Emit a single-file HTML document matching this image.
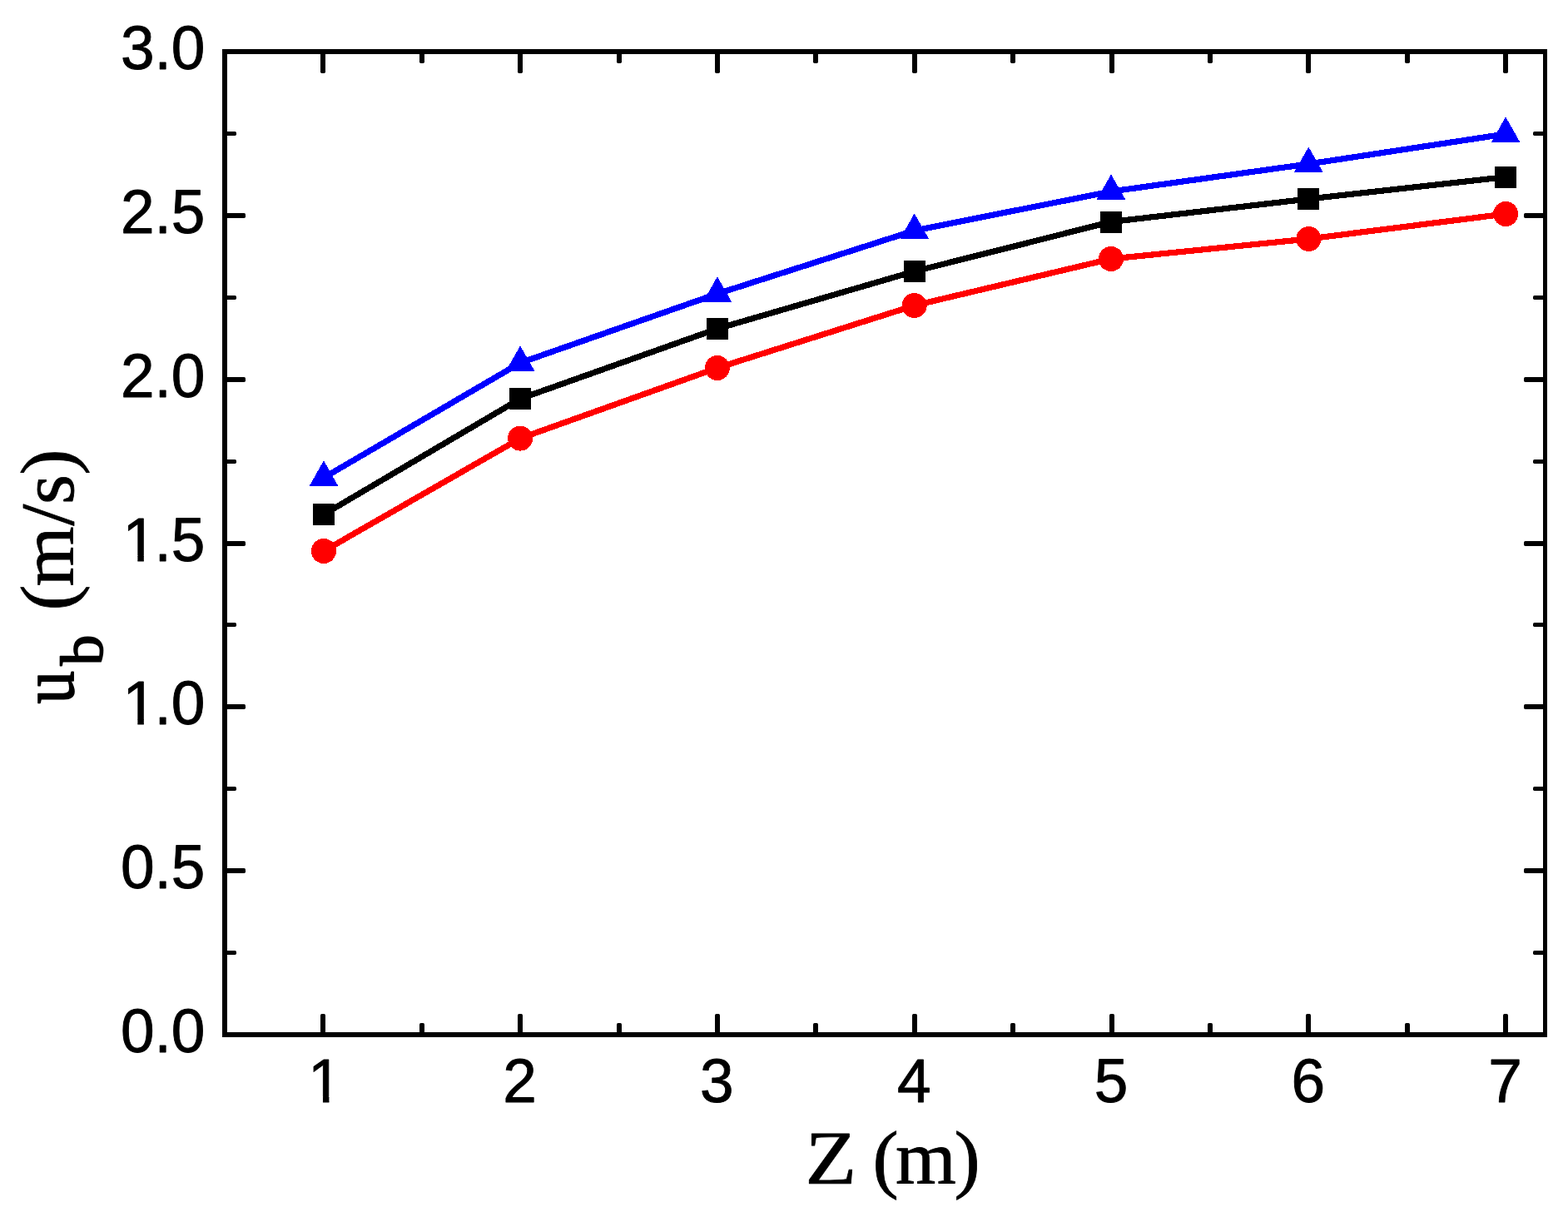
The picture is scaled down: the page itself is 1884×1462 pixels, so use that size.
<!DOCTYPE html>
<html lang="en"><head><meta charset="utf-8"><title>Bubble velocity u_b (m/s) versus height Z (m)</title>
<style>html,body{margin:0;padding:0;background:#fff;}body{width:1884px;height:1462px;overflow:hidden;}svg{display:block;}.tk{font-family:"Liberation Sans",Arial,Helvetica,sans-serif;font-size:73px;fill:#000;stroke:#000;stroke-width:0.9px;stroke-linejoin:round;}.ti{font-family:"Liberation Serif","Times New Roman",Times,serif;font-size:90px;fill:#000;stroke:#000;stroke-width:0.8px;stroke-linejoin:round;}</style></head><body>
<svg width="1884" height="1462" viewBox="0 0 1884 1462">
<rect x="0" y="0" width="1884" height="1462" fill="#fff"/>
<g fill="#000"><rect x="385" y="1218" width="6" height="25" rx="1.7"/><rect x="385" y="62" width="6" height="26" rx="1.7"/><rect x="504" y="1229" width="6" height="14" rx="1.7"/><rect x="504" y="62" width="6" height="14" rx="1.7"/><rect x="622" y="1218" width="6" height="25" rx="1.7"/><rect x="622" y="62" width="6" height="26" rx="1.7"/><rect x="741" y="1229" width="6" height="14" rx="1.7"/><rect x="741" y="62" width="6" height="14" rx="1.7"/><rect x="859" y="1218" width="6" height="25" rx="1.7"/><rect x="859" y="62" width="6" height="26" rx="1.7"/><rect x="977" y="1229" width="6" height="14" rx="1.7"/><rect x="977" y="62" width="6" height="14" rx="1.7"/><rect x="1096" y="1218" width="6" height="25" rx="1.7"/><rect x="1096" y="62" width="6" height="26" rx="1.7"/><rect x="1214" y="1229" width="6" height="14" rx="1.7"/><rect x="1214" y="62" width="6" height="14" rx="1.7"/><rect x="1333" y="1218" width="6" height="25" rx="1.7"/><rect x="1333" y="62" width="6" height="26" rx="1.7"/><rect x="1451" y="1229" width="6" height="14" rx="1.7"/><rect x="1451" y="62" width="6" height="14" rx="1.7"/><rect x="1569" y="1218" width="6" height="25" rx="1.7"/><rect x="1569" y="62" width="6" height="26" rx="1.7"/><rect x="1688" y="1229" width="6" height="14" rx="1.7"/><rect x="1688" y="62" width="6" height="14" rx="1.7"/><rect x="1806" y="1218" width="6" height="25" rx="1.7"/><rect x="1806" y="62" width="6" height="26" rx="1.7"/><rect x="270" y="1142" width="14" height="5" rx="1.7"/><rect x="1842" y="1142" width="14" height="5" rx="1.7"/><rect x="270" y="1043" width="25" height="6" rx="1.7"/><rect x="1831" y="1043" width="25" height="6" rx="1.7"/><rect x="270" y="945" width="14" height="5" rx="1.7"/><rect x="1842" y="945" width="14" height="5" rx="1.7"/><rect x="270" y="846" width="25" height="6" rx="1.7"/><rect x="1831" y="846" width="25" height="6" rx="1.7"/><rect x="270" y="748" width="14" height="5" rx="1.7"/><rect x="1842" y="748" width="14" height="5" rx="1.7"/><rect x="270" y="650" width="25" height="6" rx="1.7"/><rect x="1831" y="650" width="25" height="6" rx="1.7"/><rect x="270" y="552" width="14" height="5" rx="1.7"/><rect x="1842" y="552" width="14" height="5" rx="1.7"/><rect x="270" y="453" width="25" height="6" rx="1.7"/><rect x="1831" y="453" width="25" height="6" rx="1.7"/><rect x="270" y="355" width="14" height="5" rx="1.7"/><rect x="1842" y="355" width="14" height="5" rx="1.7"/><rect x="270" y="256" width="25" height="6" rx="1.7"/><rect x="1831" y="256" width="25" height="6" rx="1.7"/><rect x="270" y="158" width="14" height="5" rx="1.7"/><rect x="1842" y="158" width="14" height="5" rx="1.7"/></g>
<g fill="#000">
<rect x="267" y="59" width="1592" height="6"/>
<rect x="267" y="1240" width="1592" height="6"/>
<rect x="267" y="59" width="6" height="1187"/>
<rect x="1854" y="59" width="5" height="1187"/>
</g>
<g shape-rendering="crispEdges">
<polyline points="389.00,618.00 625.10,479.05 861.90,394.90 1098.70,326.00 1335.00,266.50 1572.30,239.00 1809.10,212.70" fill="none" stroke="#000" stroke-width="7.2" stroke-linejoin="round"/>
<rect x="376.00" y="605.00" width="26" height="26" fill="#000"/>
<rect x="612.10" y="466.05" width="26" height="26" fill="#000"/>
<rect x="848.90" y="381.90" width="26" height="26" fill="#000"/>
<rect x="1085.70" y="313.00" width="26" height="26" fill="#000"/>
<rect x="1322.00" y="253.50" width="26" height="26" fill="#000"/>
<rect x="1559.30" y="226.00" width="26" height="26" fill="#000"/>
<rect x="1796.10" y="199.70" width="26" height="26" fill="#000"/>
</g><g shape-rendering="crispEdges">
<polyline points="389.00,662.00 625.10,526.60 861.90,442.00 1098.70,367.00 1335.00,311.00 1572.30,287.00 1809.10,257.00" fill="none" stroke="#f00" stroke-width="7.2" stroke-linejoin="round"/>
<circle cx="389.00" cy="662.00" r="15" fill="#f00"/>
<circle cx="625.10" cy="526.60" r="15" fill="#f00"/>
<circle cx="861.90" cy="442.00" r="15" fill="#f00"/>
<circle cx="1098.70" cy="367.00" r="15" fill="#f00"/>
<circle cx="1335.00" cy="311.00" r="15" fill="#f00"/>
<circle cx="1572.30" cy="287.00" r="15" fill="#f00"/>
<circle cx="1809.10" cy="257.00" r="15" fill="#f00"/>
</g><g shape-rendering="crispEdges">
<polyline points="389.00,573.90 625.10,435.90 861.90,352.90 1098.70,277.00 1335.00,230.00 1572.30,197.00 1809.10,161.00" fill="none" stroke="#00f" stroke-width="7.2" stroke-linejoin="round"/>
<polygon points="389.00,553.30 406.50,584.10 371.50,584.10" fill="#00f"/>
<polygon points="625.10,415.30 642.60,446.10 607.60,446.10" fill="#00f"/>
<polygon points="861.90,332.30 879.40,363.10 844.40,363.10" fill="#00f"/>
<polygon points="1098.70,256.40 1116.20,287.20 1081.20,287.20" fill="#00f"/>
<polygon points="1335.00,209.40 1352.50,240.20 1317.50,240.20" fill="#00f"/>
<polygon points="1572.30,176.40 1589.80,207.20 1554.80,207.20" fill="#00f"/>
<polygon points="1809.10,140.40 1826.60,171.20 1791.60,171.20" fill="#00f"/>
</g>
<defs><clipPath id="cy2" clipPathUnits="userSpaceOnUse"><rect x="127.52" y="790.43" width="142.88" height="73.59"/><rect x="165.38" y="863.03" width="7.45" height="12.00"/><rect x="189.62" y="863.03" width="62.28" height="12.00"/></clipPath><clipPath id="cy3" clipPathUnits="userSpaceOnUse"><rect x="127.52" y="593.60" width="142.88" height="73.59"/><rect x="165.38" y="666.19" width="7.45" height="12.00"/><rect x="189.62" y="666.19" width="62.28" height="12.00"/></clipPath><clipPath id="cx1" clipPathUnits="userSpaceOnUse"><rect x="350.10" y="1243.60" width="80.60" height="73.59"/><rect x="387.96" y="1316.19" width="7.45" height="12.00"/></clipPath></defs>
<text class="tk" text-anchor="end" transform="translate(246.40,1264.10) scale(1,1.01)">0.0</text>
<text class="tk" text-anchor="end" transform="translate(246.40,1067.27) scale(1,1.01)">0.5</text>
<g clip-path="url(#cy2)"><text class="tk" transform="translate(0,870.43) scale(1,1.01)" x="147.52 185.52 205.80">1.0</text></g>
<g clip-path="url(#cy3)"><text class="tk" transform="translate(0,673.60) scale(1,1.01)" x="147.52 185.52 205.80">1.5</text></g>
<text class="tk" text-anchor="end" transform="translate(246.40,476.77) scale(1,1.01)">2.0</text>
<text class="tk" text-anchor="end" transform="translate(246.40,279.93) scale(1,1.01)">2.5</text>
<text class="tk" text-anchor="end" transform="translate(246.40,83.10) scale(1,1.01)">3.0</text>
<g clip-path="url(#cx1)"><text class="tk" text-anchor="middle" transform="translate(390.40,1323.60) scale(1,1.01)">1</text></g>
<text class="tk" text-anchor="middle" transform="translate(624.60,1323.60) scale(1,1.01)">2</text>
<text class="tk" text-anchor="middle" transform="translate(861.40,1323.60) scale(1,1.01)">3</text>
<text class="tk" text-anchor="middle" transform="translate(1098.20,1323.60) scale(1,1.01)">4</text>
<text class="tk" text-anchor="middle" transform="translate(1335.00,1323.60) scale(1,1.01)">5</text>
<text class="tk" text-anchor="middle" transform="translate(1571.80,1323.60) scale(1,1.01)">6</text>
<text class="tk" text-anchor="middle" transform="translate(1808.60,1323.60) scale(1,1.01)">7</text>
<text class="ti" transform="translate(0,1421.8) scale(1.04,1)" y="0"><tspan x="930.19" textLength="59.30" lengthAdjust="spacingAndGlyphs">Z</tspan><tspan x="988.46 1008.17 1034.62 1102.40"> (m)</tspan></text>
<text class="ti" transform="translate(88,847) rotate(-90) scale(1.03,1)" y="0"><tspan x="1.36" textLength="38.40" lengthAdjust="spacingAndGlyphs" stroke-width="1.7">u</tspan><tspan x="46.12" dy="35" font-size="71.5px" stroke-width="1.7">b</tspan><tspan x="87.38 110.19 138.35 209.22 233.98 268.45" dy="-35"> (m/s)</tspan></text>
</svg></body></html>
